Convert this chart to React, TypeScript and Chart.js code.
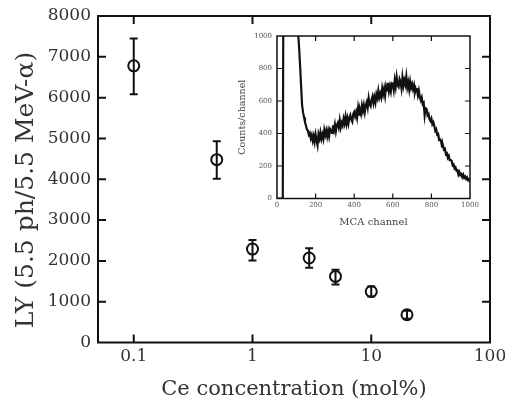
import React, { useEffect, useRef } from "react";
import { Chart, registerables } from "chart.js";
Chart.register(...registerables);

// ---- main chart data ----
const ceConc = [0.1, 0.5, 1, 3, 5, 10, 20];
const lightYield = [6780, 4480, 2290, 2070, 1620, 1250, 680];
const lyHigh = [7450, 4930, 2510, 2310, 1780, 1370, 780];
const lyLow = [6080, 4010, 2010, 1830, 1420, 1130, 580];
const xTickValues = [0.1, 1, 10, 100];
const xTickLabels = ["0.1", "1", "10", "100"];
const yTickValues = [0, 1000, 2000, 3000, 4000, 5000, 6000, 7000, 8000];
const yTitle = "LY (5.5 ph/5.5 MeV-α)";

// ---- inset spectrum data ----
const mcaChannel = [
  0, 20, 30, 33, 95,
  100, 105, 110, 115, 120, 125, 130, 135, 140, 145,
  150, 155, 160, 165, 170, 175, 180, 185, 190, 195,
  200, 205, 210, 215, 220, 225, 230, 235, 240, 245,
  250, 255, 260, 265, 270, 275, 280, 285, 290, 295,
  300, 305, 310, 315, 320, 325, 330, 335, 340, 345,
  350, 355, 360, 365, 370, 375, 380, 385, 390, 395,
  400, 405, 410, 415, 420, 425, 430, 435, 440, 445,
  450, 455, 460, 465, 470, 475, 480, 485, 490, 495,
  500, 505, 510, 515, 520, 525, 530, 535, 540, 545,
  550, 555, 560, 565, 570, 575, 580, 585, 590, 595,
  600, 605, 610, 615, 620, 625, 630, 635, 640, 645,
  650, 655, 660, 665, 670, 675, 680, 685, 690, 695,
  700,
  705, 710, 715, 720, 725, 730, 735, 740, 745, 750,
  755, 760, 765, 770, 775, 780, 785, 790, 795, 800,
  805, 810, 815, 820, 825, 830, 835, 840, 845, 850,
  855, 860, 865, 870, 875, 880, 885, 890, 895, 900,
  905, 910, 915, 920, 925, 930, 935, 940, 945, 950,
  955, 960, 965, 970, 975, 980, 985, 990, 995, 1000,
];
const counts = [
  0, 0, 0, 1300, 1300,
  1100, 1050, 1010, 920, 810, 690, 575, 530, 500, 470,
  448, 425, 418, 392, 402, 370, 390, 355, 384, 348,
  394, 359, 328, 395, 370, 406, 367, 393, 366, 421,
  391, 418, 382, 417, 383, 429, 421, 403, 451, 421,
  456, 414, 452, 465, 439, 482, 437, 466, 449, 491,
  463, 504, 460, 494, 460, 496, 513, 485, 472, 520,
  533, 506, 531, 498, 557, 516, 545, 521, 572, 539,
  574, 532, 572, 593, 560, 617, 579, 568, 610, 629,
  588, 622, 591, 641, 619, 663, 621, 645, 622, 677,
  642, 675, 632, 690, 666, 712, 660, 691, 660, 710,
  707, 668, 728, 688, 745, 696, 686, 735, 718, 678,
  746, 695, 728, 702, 751, 684, 714, 671, 719, 682,
  704,
  672, 697, 654, 677, 674, 635, 664, 624, 604, 622,
  581, 589, 512, 556, 552, 513, 521, 488, 477, 492,
  458, 469, 447, 417, 426, 393, 397, 360, 363, 353,
  319, 326, 301, 306, 274, 279, 251, 262, 236, 236,
  231, 205, 210, 185, 192, 172, 174, 148, 163, 144,
  150, 132, 146, 127, 135, 121, 130, 113, 118, 101,
];
const insetTicks = [0, 200, 400, 600, 800, 1000];

const SERIF = "'DejaVu Serif', 'Liberation Serif', serif";

const framePlugin = {
  id: "frame",
  afterDraw(chart: any, _args: any, opts: any) {
    const { ctx, chartArea: a, scales } = chart;
    const xs = scales.x;
    const ys = scales.y;
    ctx.save();
    ctx.strokeStyle = opts.color;
    ctx.lineWidth = opts.lineWidth;
    ctx.strokeRect(a.left, a.top, a.right - a.left, a.bottom - a.top);
    ctx.lineWidth = opts.tickWidth;
    ctx.beginPath();
    const L = opts.tickLen;
    for (const v of opts.xTicks) {
      const px = xs.getPixelForValue(v);
      ctx.moveTo(px, a.bottom);
      ctx.lineTo(px, a.bottom - L);
      ctx.moveTo(px, a.top);
      ctx.lineTo(px, a.top + L);
    }
    for (const v of opts.yTicks) {
      const py = ys.getPixelForValue(v);
      ctx.moveTo(a.left, py);
      ctx.lineTo(a.left + L, py);
      ctx.moveTo(a.right, py);
      ctx.lineTo(a.right - L, py);
    }
    ctx.stroke();
    ctx.restore();
  },
};

const errorBarPlugin = {
  id: "errbars",
  beforeDatasetsDraw(chart: any) {
    const { ctx, scales } = chart;
    const xs = scales.x;
    const ys = scales.y;
    ctx.save();
    ctx.strokeStyle = "#111";
    ctx.lineWidth = 2;
    ctx.beginPath();
    for (let i = 0; i < ceConc.length; i++) {
      const px = xs.getPixelForValue(ceConc[i]);
      const yt = ys.getPixelForValue(lyHigh[i]);
      const yb = ys.getPixelForValue(lyLow[i]);
      ctx.moveTo(px, yt);
      ctx.lineTo(px, yb);
      ctx.moveTo(px - 4, yt);
      ctx.lineTo(px + 4, yt);
      ctx.moveTo(px - 4, yb);
      ctx.lineTo(px + 4, yb);
    }
    ctx.stroke();
    ctx.restore();
  },
};

// y-axis title, drawn rotated at the reference's position
const yTitlePlugin = {
  id: "ytitle",
  afterDraw(chart: any) {
    const { ctx } = chart;
    ctx.save();
    ctx.translate(26, 190);
    ctx.rotate(-Math.PI / 2);
    ctx.font = `25px ${SERIF}`;
    ctx.fillStyle = "#333";
    ctx.textAlign = "center";
    ctx.textBaseline = "middle";
    ctx.fillText(yTitle, 0, 0);
    ctx.restore();
  },
};

export default function App() {
  const mainRef = useRef<HTMLCanvasElement>(null);
  const insetRef = useRef<HTMLCanvasElement>(null);

  useEffect(() => {
    const main = new Chart(mainRef.current as HTMLCanvasElement, {
      type: "scatter",
      data: {
        datasets: [
          {
            data: ceConc.map((c, i) => ({ x: c, y: lightYield[i] })),
            pointRadius: 5.5,
            pointBorderWidth: 2,
            borderColor: "#111",
            backgroundColor: "rgba(0,0,0,0)",
            pointStyle: "circle",
          },
        ],
      },
      options: {
        animation: false,
        responsive: false,
        maintainAspectRatio: false,
        layout: { padding: { left: 8, top: 16, right: 15, bottom: 0 } },
        plugins: {
          legend: { display: false },
          tooltip: { enabled: false },
          frame: {
            color: "#111",
            lineWidth: 2,
            tickWidth: 2,
            tickLen: 8,
            xTicks: [0.1, 1, 10],
            yTicks: yTickValues.slice(1, -1),
          },
        } as any,
        scales: {
          x: {
            type: "logarithmic",
            min: 0.05,
            max: 100,
            grid: { display: false, drawTicks: false },
            border: { display: false },
            afterBuildTicks: (s: any) => {
              s.ticks = xTickValues.map((v) => ({ value: v }));
            },
            afterFit: (s: any) => {
              s.height = 59.5;
              s.paddingLeft = 0;
              s.paddingRight = 0;
            },
            ticks: {
              autoSkip: false,
              maxRotation: 0,
              padding: 4,
              color: "#333",
              font: { family: SERIF, size: 17 },
              callback: (_v: any, i: number) => xTickLabels[i],
            },
            title: {
              display: true,
              text: "Ce concentration (mol%)",
              color: "#333",
              font: { family: SERIF, size: 21 },
              padding: { top: 0, bottom: 0 },
            },
          },
          y: {
            type: "linear",
            min: 0,
            max: 8000,
            grid: { display: false, drawTicks: false },
            border: { display: false },
            afterBuildTicks: (s: any) => {
              s.ticks = yTickValues.map((v) => ({ value: v }));
            },
            afterFit: (s: any) => {
              s.width = 90;
              s.paddingTop = 0;
              s.paddingBottom = 0;
            },
            ticks: {
              padding: 7,
              color: "#333",
              font: { family: SERIF, size: 17 },
              callback: (v: any) => String(v),
            },
            title: { display: false },
          },
        },
      } as any,
      plugins: [errorBarPlugin, framePlugin, yTitlePlugin],
    });

    const inset = new Chart(insetRef.current as HTMLCanvasElement, {
      type: "line",
      data: {
        datasets: [
          {
            data: mcaChannel.map((c, i) => ({ x: c, y: counts[i] })),
            borderColor: "#111",
            borderWidth: 2.2,
            pointRadius: 0,
            tension: 0,
            fill: false,
          },
        ],
      },
      options: {
        animation: false,
        responsive: false,
        maintainAspectRatio: false,
        layout: { padding: { left: 0, top: 10, right: 12, bottom: 0 } },
        plugins: {
          legend: { display: false },
          tooltip: { enabled: false },
          frame: {
            color: "#111",
            lineWidth: 1.5,
            tickWidth: 1.2,
            tickLen: 5,
            xTicks: insetTicks.slice(1, -1),
            yTicks: insetTicks.slice(1, -1),
          },
        } as any,
        scales: {
          x: {
            type: "linear",
            min: 0,
            max: 1000,
            grid: { display: false, drawTicks: false },
            border: { display: false },
            afterBuildTicks: (s: any) => {
              s.ticks = insetTicks.map((v) => ({ value: v }));
            },
            afterFit: (s: any) => {
              s.height = 33.5;
              s.paddingLeft = 0;
              s.paddingRight = 0;
            },
            ticks: {
              autoSkip: false,
              maxRotation: 0,
              padding: 2,
              color: "#555",
              font: { family: SERIF, size: 7 },
              callback: (v: any) => String(v),
            },
            title: {
              display: true,
              text: "MCA channel",
              color: "#444",
              font: { family: SERIF, size: 10 },
              padding: { top: 0, bottom: 4 },
            },
          },
          y: {
            type: "linear",
            min: 0,
            max: 1000,
            grid: { display: false, drawTicks: false },
            border: { display: false },
            afterBuildTicks: (s: any) => {
              s.ticks = insetTicks.map((v) => ({ value: v }));
            },
            afterFit: (s: any) => {
              s.width = 45;
              s.paddingTop = 0;
              s.paddingBottom = 0;
            },
            ticks: {
              padding: 5,
              color: "#555",
              font: { family: SERIF, size: 7 },
              callback: (v: any) => String(v),
            },
            title: {
              display: true,
              text: "Counts/channel",
              color: "#444",
              font: { family: SERIF, size: 9.5 },
              padding: { top: 5, bottom: 0 },
            },
          },
        },
      } as any,
      plugins: [framePlugin],
    });

    return () => {
      main.destroy();
      inset.destroy();
    };
  }, []);

  return (
    <div style={{ position: "fixed", left: 0, top: 0, width: 505, height: 402, background: "#fff" }}>
      <canvas
        ref={mainRef}
        width={505}
        height={402}
        style={{ position: "absolute", left: 0, top: 0, width: 505, height: 402 }}
      />
      <canvas
        ref={insetRef}
        width={250}
        height={206}
        style={{ position: "absolute", left: 232, top: 26, width: 250, height: 206 }}
      />
    </div>
  );
}
